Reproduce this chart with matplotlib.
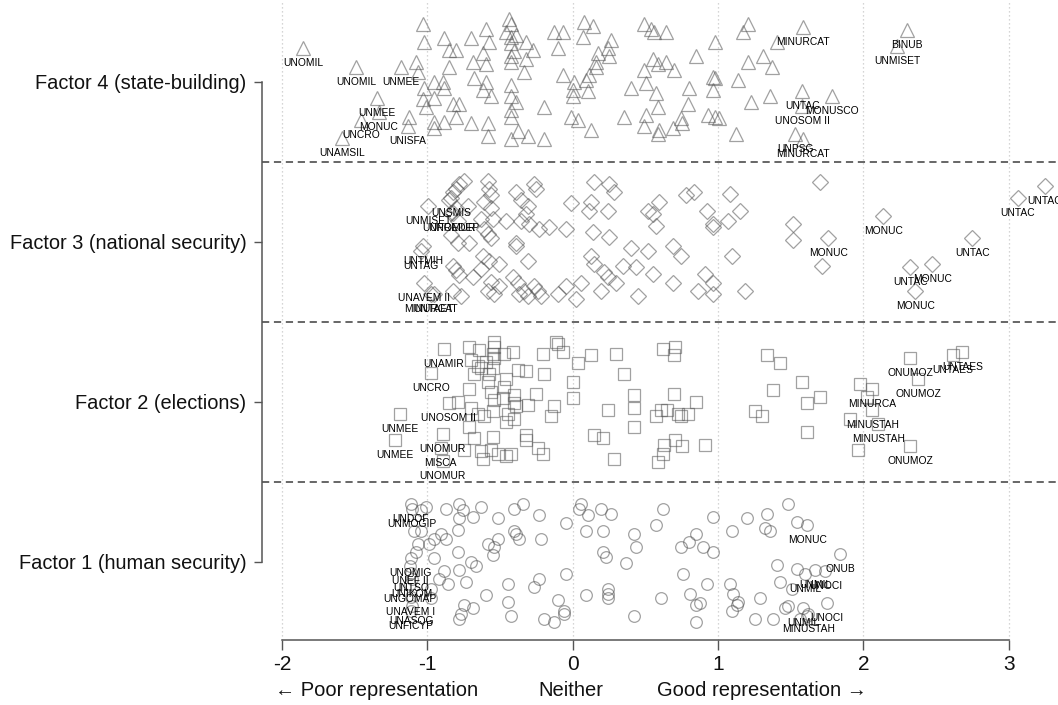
import matplotlib
matplotlib.use("Agg")
import matplotlib.pyplot as plt
import matplotlib.transforms as mtransforms

plt.rcParams['font.family'] = ['Liberation Sans', 'DejaVu Sans']
NARROW = ['Liberation Sans Narrow', 'Liberation Sans', 'DejaVu Sans']

factor_names = ["Factor 1 (human security)", "Factor 2 (elections)",
                "Factor 3 (national security)", "Factor 4 (state-building)"]
x_ticks = [-2, -1, 0, 1, 2, 3]
x_title_parts = ["\u2190 Poor representation", "Neither", "Good representation \u2192"]
x_title_pos = [-1.351, -0.014, 1.305]

# ---------------- Factor 4 (state-building): triangles ----------------
f4_x = [-1.030, -1.023, -1.078, -1.065, -1.023, -1.030, -1.010, -1.126, -0.955, -0.955,
        -0.955, -0.955, -0.886, -0.852, -0.804, -0.852, -0.893, -0.886, -0.886, -0.824,
        -0.783, -0.804, -0.701, -0.598, -0.577, -0.687, -0.618, -0.598, -0.680, -0.598,
        -0.618, -0.563, -0.701, -0.584, -0.584, -0.440, -0.426, -0.460, -0.426, -0.391,
        -0.426, -0.405, -0.426, -0.323, -0.275, -0.323, -0.426, -0.337, -0.426, -0.426,
        -0.391, -0.426, -0.426, -0.378, -0.426, -0.309, -0.199, -0.199, -0.130, -0.069,
        -0.103, -0.069, 0.007, 0.000, 0.000, -0.014, 0.034, 0.124, 0.076, 0.137,
        0.069, 0.261, 0.240, 0.172, 0.247, 0.158, 0.158, 0.110, 0.089, 0.103,
        0.398, 0.350, 0.488, 0.536, 0.556, 0.549, 0.584, 0.488, 0.501, 0.570,
        0.584, 0.501, 0.488, 0.591, 0.584, 0.639, 0.639, 0.694, 0.845, 0.797,
        0.790, 0.742, 0.755, 0.687, 0.982, 0.962, 0.982, 0.962, 0.934, 0.982,
        1.003, 1.209, 1.168, 1.209, 1.140, 1.223, 1.120, 1.312, 1.374, 1.360,
        1.408]
f4_y = [4.36, 4.25, 4.125, 4.06, 3.96, 3.89, 3.84, 3.78, 4.00, 3.90,
        3.75, 3.71, 4.275, 4.20, 4.20, 4.09, 4.00, 3.96, 3.75, 3.86,
        3.86, 3.78, 4.275, 4.33, 4.25, 4.125, 4.18, 4.11, 4.025, 4.00,
        3.95, 3.91, 3.74, 3.74, 3.66, 4.39, 4.36, 4.31, 4.28, 4.29,
        4.24, 4.19, 4.16, 4.25, 4.20, 4.14, 4.12, 4.06, 3.98, 3.91,
        3.87, 3.825, 3.78, 3.69, 3.64, 3.66, 3.64, 3.84, 4.31, 4.31,
        4.21, 4.04, 4.00, 3.95, 3.91, 3.78, 3.76, 3.70, 4.37, 4.35,
        4.28, 4.26, 4.21, 4.18, 4.16, 4.125, 4.09, 4.04, 4.01, 3.94,
        3.96, 3.78, 4.36, 4.33, 4.31, 4.14, 4.11, 4.075, 3.99, 3.93,
        3.84, 3.79, 3.72, 3.70, 3.67, 4.31, 4.12, 4.075, 4.16, 3.96,
        3.86, 3.775, 3.74, 3.71, 4.25, 4.03, 4.025, 3.95, 3.79, 3.78,
        3.775, 4.36, 4.31, 4.12, 4.01, 3.87, 3.67, 4.16, 4.09, 3.91,
        4.25]
f4_lab_x = [-1.854, -1.490, -1.181, -1.346, -1.332, -1.456, -1.133, -1.587,
            1.587, 2.301, 2.232, 1.580, 1.786, 1.580, 1.532, 1.587]
f4_lab_y = [4.21, 4.09, 4.09, 3.90, 3.81, 3.76, 3.72, 3.65,
            4.34, 4.325, 4.225, 3.94, 3.91, 3.85, 3.67, 3.64]
f4_lab = ["UNOMIL", "UNOMIL", "UNMEE", "UNMEE", "MONUC", "UNCRO", "UNISFA", "UNAMSIL",
          "MINURCAT", "BINUB", "UNMISET", "UNTAC", "MONUSCO", "UNOSOM II", "UNPSG", "MINURCAT"]

# ---------------- Factor 3 (national security): diamonds ----------------
f3_x = [-0.749, -0.783, -0.804, -0.824, -0.852, -0.804, -0.721, -0.790, -0.838, -0.790,
        -0.824, -0.804, -0.783, -0.824, -0.769, -0.584, -0.577, -0.563, -0.611, -0.563,
        -0.632, -0.549, -0.611, -0.584, -0.563, -0.714, -0.618, -0.577, -0.632, -0.508,
        -0.687, -0.563, -0.508, -0.584, -0.543, -0.460, -0.391, -0.357, -0.309, -0.323,
        -0.357, -0.268, -0.254, -0.302, -0.234, -0.165, -0.391, -0.391, -0.309, -0.412,
        -0.378, -0.337, -0.371, -0.268, -0.240, -0.309, -0.220, -0.048, -0.014, -0.103,
        -0.048, 0.021, 0.055, 0.144, 0.124, 0.110, 0.137, 0.240, 0.247, 0.282,
        0.247, 0.124, 0.144, 0.192, 0.213, 0.240, 0.295, 0.343, 0.398, 0.433,
        0.446, 0.515, 0.549, 0.515, 0.549, 0.591, 0.570, 0.687, 0.687, 0.776,
        0.831, 0.927, 0.962, 0.962, 1.065, 1.085, 1.154, 0.742, 1.099, 0.913,
        0.962, 0.968, 0.859, 1.188, 1.703, 1.518, 1.518, 1.717]
f3_y = [3.38, 3.36, 3.33, 3.31, 3.26, 3.21, 3.225, 3.13, 3.04, 2.99,
        2.85, 2.82, 2.79, 2.69, 2.66, 3.38, 3.33, 3.29, 3.25, 3.21,
        3.14, 3.14, 3.08, 3.05, 3.02, 2.99, 2.91, 2.88, 2.83, 2.86,
        2.78, 2.75, 2.725, 2.69, 2.675, 3.13, 3.31, 3.26, 3.22, 3.175,
        3.13, 3.36, 3.33, 3.11, 3.08, 3.09, 2.99, 2.97, 2.88, 2.78,
        2.74, 2.69, 2.675, 2.72, 2.69, 2.66, 2.66, 3.08, 3.24, 2.675,
        2.725, 2.64, 2.74, 3.375, 3.25, 3.19, 3.06, 3.19, 3.36, 3.31,
        3.03, 2.91, 2.86, 2.69, 2.81, 2.78, 2.74, 2.85, 2.96, 2.84,
        2.66, 2.94, 2.80, 3.19, 3.175, 3.25, 3.10, 2.97, 2.74, 3.29,
        3.31, 3.19, 3.11, 3.09, 3.13, 3.30, 3.19, 2.91, 2.91, 2.80,
        2.74, 2.675, 2.69, 2.69, 3.375, 3.11, 3.01, 2.85]
f3_lab_x = [-0.996, -1.030, -1.044, -1.023, -0.975, -0.955, -0.838, -0.838, -0.824,
            1.758, 2.136, 2.747, 2.321, 2.472, 2.356, 3.063, 3.249]
f3_lab_y = [3.225, 2.97, 2.94, 2.74, 2.675, 2.675, 3.27, 3.18, 3.18,
            3.02, 3.16, 3.02, 2.84, 2.86, 2.69, 3.27, 3.35]
f3_lab = ["UNMISET", "UNTMIH", "UNTAG", "UNAVEM II", "MINURCAT", "UNTAET", "UNSMIS",
          "UNPREDEP", "UNOMUR", "MONUC", "MONUC", "UNTAC", "UNTAC", "MONUC", "MONUC",
          "UNTAC", "UNTAC"]

# ---------------- Factor 2 (elections): squares ----------------
f2_x = [-0.714, -0.646, -0.701, -0.543, -0.543, -0.549, -0.543, -0.598, -0.632, -0.652,
        -0.549, -0.577, -0.680, -0.584, -0.474, -0.412, -0.378, -0.323, -0.460, -0.474,
        -0.714, -0.563, -0.543, -0.481, -0.405, -0.405, -0.391, -0.254, -0.199, -0.206,
        -0.117, -0.103, -0.069, -0.309, -0.130, -0.151, -0.790, -0.701, -0.652, -0.611,
        -0.549, -0.446, -0.405, -0.460, -0.714, -0.680, -0.549, -0.323, -0.323, -0.749,
        -0.632, -0.563, -0.515, -0.618, -0.460, -0.426, -0.240, -0.206, 0.000, 0.034,
        0.000, 0.124, 0.295, 0.350, 0.240, 0.144, 0.206, 0.282, 0.419, 0.419,
        0.419, 0.618, 0.707, 0.694, 0.694, 0.570, 0.604, 0.652, 0.721, 0.742,
        0.790, 0.845, 0.625, 0.618, 0.584, 0.707, 0.755, 0.913, 1.339, 1.429,
        1.380, 1.257, 1.305, 1.580, 1.614, 1.703, 1.614, 1.978, 2.026, 1.909,
        1.964]
f2_y = [2.34, 2.325, 2.26, 2.375, 2.34, 2.30, 2.27, 2.25, 2.21, 2.22,
        2.21, 2.175, 2.17, 2.125, 2.30, 2.31, 2.20, 2.19, 2.14, 2.09,
        2.08, 2.06, 2.01, 2.02, 2.04, 1.99, 1.97, 2.05, 2.175, 2.30,
        2.375, 2.36, 2.31, 1.98, 1.97, 1.91, 2.00, 1.96, 1.92, 1.91,
        1.94, 1.925, 1.89, 1.875, 1.84, 1.77, 1.78, 1.79, 1.76, 1.70,
        1.69, 1.70, 1.675, 1.64, 1.66, 1.675, 1.71, 1.675, 2.125, 2.24,
        2.02, 2.29, 2.30, 2.175, 1.95, 1.79, 1.77, 1.64, 2.04, 1.96,
        1.84, 2.33, 2.34, 2.29, 2.05, 1.91, 1.95, 1.95, 1.92, 1.91,
        1.92, 2.00, 1.73, 1.675, 1.625, 1.76, 1.72, 1.73, 2.29, 2.24,
        2.075, 1.94, 1.91, 2.125, 1.99, 2.03, 1.81, 2.11, 2.03, 1.89,
        1.70]
f2_lab_x = [-0.886, -0.975, -0.852, -1.188, -1.222, -0.893, -0.907, -0.893,
            2.060, 2.060, 2.102, 2.321, 2.376, 2.321, 2.679, 2.617]
f2_lab_y = [2.33, 2.18, 1.99, 1.92, 1.76, 1.80, 1.71, 1.63,
            2.08, 1.95, 1.86, 1.725, 2.14, 2.27, 2.31, 2.29]
f2_lab = ["UNAMIR", "UNCRO", "UNOSOM II", "UNMEE", "UNMEE", "UNOMUR", "MISCA", "UNOMUR",
          "MINURCA", "MINUSTAH", "MINUSTAH", "ONUMOZ", "ONUMOZ", "ONUMOZ", "UNTAES", "UNTAES"]

# ---------------- Factor 1 (human security): circles ----------------
f1_x = [-1.010, -1.044, -0.872, -0.783, -0.755, -0.632, -0.687, -0.783, -0.515, -0.405,
        -0.343, -0.234, -0.048, -1.092, -1.044, -0.907, -0.872, -0.790, -0.955, -0.989,
        -1.065, -1.078, -0.955, -0.790, -0.584, -0.515, -0.543, -0.549, -0.405, -0.391,
        -0.371, -0.220, -0.701, -0.666, -0.783, -0.886, -0.920, -0.975, -0.975, -0.858,
        -0.735, -0.446, -0.598, -0.446, -0.268, -0.234, -0.048, -0.103, -0.749, -0.687,
        -0.769, -0.783, -0.426, -0.199, -0.130, -0.062, -0.062, 0.055, 0.041, 0.103,
        0.192, 0.261, 0.089, 0.206, 0.419, 0.433, 0.206, 0.227, 0.364, 0.618,
        0.570, 0.742, 0.797, 0.845, 0.762, 0.240, 0.240, 0.240, 0.089, 0.604,
        0.810, 0.845, 0.419, 0.845, 0.962, 0.893, 0.962, 0.927, 0.879, 1.099,
        1.202, 1.339, 1.326, 1.360, 1.484, 1.545, 1.408, 1.545, 1.429, 1.511,
        1.085, 1.106, 1.140, 1.133, 1.099, 1.291, 1.257, 1.380, 1.463, 1.484,
        1.566, 1.614]
f1_y = [1.34, 1.325, 1.33, 1.36, 1.325, 1.34, 1.28, 1.27, 1.275, 1.33,
        1.36, 1.29, 1.24, 1.19, 1.19, 1.17, 1.14, 1.20, 1.14, 1.11,
        1.11, 1.06, 1.02, 1.06, 1.11, 1.14, 1.09, 1.04, 1.19, 1.175,
        1.14, 1.14, 1.00, 0.97, 0.95, 0.94, 0.89, 0.83, 0.77, 0.86,
        0.875, 0.86, 0.79, 0.75, 0.84, 0.89, 0.92, 0.76, 0.73, 0.71,
        0.67, 0.64, 0.66, 0.64, 0.625, 0.69, 0.67, 1.36, 1.33, 1.29,
        1.33, 1.30, 1.19, 1.19, 1.17, 1.09, 1.06, 1.03, 0.99, 1.33,
        1.23, 1.09, 1.125, 1.17, 0.925, 0.83, 0.80, 0.77, 0.79, 0.77,
        0.80, 0.73, 0.66, 0.625, 1.28, 1.09, 1.06, 0.86, 0.74, 1.19,
        1.27, 1.30, 1.21, 1.19, 1.36, 1.25, 0.98, 0.955, 0.875, 0.83,
        0.86, 0.80, 0.75, 0.73, 0.69, 0.77, 0.64, 0.64, 0.71, 0.72,
        0.64, 0.66]
f1_lab_x = [-1.113, -1.106, -1.113, -1.119, -1.113, -1.106, -1.119, -1.113, -1.106, -1.113,
            1.614, 1.841, 1.669, 1.600, 1.738, 1.751, 1.587, 1.621]
f1_lab_y = [1.36, 1.33, 1.025, 0.97, 0.93, 0.89, 0.86, 0.78, 0.72, 0.69,
            1.23, 1.05, 0.95, 0.925, 0.94, 0.74, 0.71, 0.675]
f1_lab = ["UNDOF", "UNMOGIP", "UNOMIG", "UNEF II", "UNTSO", "UNIKOM", "UNGOMAP", "UNAVEM I",
          "UNASOG", "UNFICYP", "MONUC", "ONUB", "UNMIL", "UNMIL", "UNOCI", "UNOCI", "UNMIL",
          "MINUSTAH"]

# ---------------- Figure ----------------
fig = plt.figure(figsize=(10.58, 7.05), dpi=100)
ax = fig.add_axes([262 / 1058, 65 / 705, 1 - 262 / 1058, 1 - 65 / 705])

ax.set_xlim(-2.137, 3.338)
ax.set_ylim(0.51, 4.51)

for gx in x_ticks:
    ax.axvline(gx, color='#c8c8c8', lw=0.9, ls=(0, (1, 2.2)), zorder=0)
for sy in [1.5, 2.5, 3.5]:
    ax.axhline(sy, color='#5a5a5a', lw=1.3, ls=(0, (4, 2.6)), zorder=1)

edge = '#555555'
groups = [
    (f4_x, f4_y, f4_lab_x, f4_lab_y, f4_lab, '^', 10.0),
    (f3_x, f3_y, f3_lab_x, f3_lab_y, f3_lab, 'D', 7.8),
    (f2_x, f2_y, f2_lab_x, f2_lab_y, f2_lab, 's', 8.2),
    (f1_x, f1_y, f1_lab_x, f1_lab_y, f1_lab, 'o', 8.4),
]
for xs, ys, lx, ly, ln, mk, ms in groups:
    ax.plot(xs + lx, ys + ly, ls='none', marker=mk, ms=ms, mfc='none',
            mec=edge, mew=0.9, alpha=0.55, zorder=2)
    for xx, yy, name in zip(lx, ly, ln):
        ax.annotate(name, (xx, yy), xytext=(0, -10.8), textcoords='offset points',
                    ha='center', va='center', fontsize=7.4, color='#000000',
                    family=NARROW, zorder=3, annotation_clip=False)

for side in ['top', 'right']:
    ax.spines[side].set_visible(False)
ax.spines['left'].set_bounds(1, 4)
ax.spines['bottom'].set_bounds(-2, 3)
for side in ['left', 'bottom']:
    ax.spines[side].set_color('#555555')
    ax.spines[side].set_linewidth(1.1)

ax.set_yticks([1, 2, 3, 4])
ax.set_yticklabels(factor_names, fontsize=14.4, color='#111111')
ax.set_xticks(x_ticks)
ax.set_xticklabels([str(t) for t in x_ticks], fontsize=15, color='#111111', family=NARROW)
ax.tick_params(axis='y', length=5.8, width=1.0, color='#555555', pad=5.5)
ax.tick_params(axis='x', length=7.2, width=1.0, color='#555555', pad=3.5)

trans = mtransforms.blended_transform_factory(ax.transData, ax.transAxes)
for txt, xp in zip(x_title_parts, x_title_pos):
    ax.text(xp, -51 / 640, txt, transform=trans, ha='center', va='center',
            fontsize=14.5, color='#111111', family=NARROW, clip_on=False)

fig.savefig("out.png", dpi=100)
